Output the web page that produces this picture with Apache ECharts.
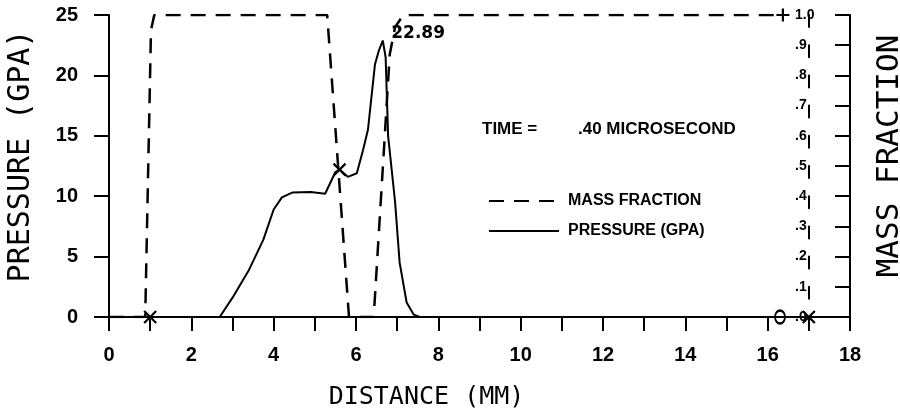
<!DOCTYPE html>
<html><head><meta charset="utf-8">
<script src="https://cdn.jsdelivr.net/npm/echarts@6/dist/echarts.min.js"></script>
<style>html,body{margin:0;padding:0;background:#fff}#c{width:900px;height:414px}</style>
</head><body><div id="c"></div>
<script>
// ---- data ----
const pressureX = [0, 1, 2.69, 3.0, 3.4, 3.75, 4.0, 4.2, 4.45, 4.9, 5.25, 5.5, 5.6, 5.8, 6.02, 6.17, 6.29, 6.46, 6.55, 6.65, 6.72, 6.78, 6.95, 7.06, 7.23, 7.4, 7.55, 17, 18];
const pressureY = [0, 0, 0, 1.6, 3.9, 6.4, 8.9, 9.9, 10.3, 10.35, 10.2, 12.0, 12.2, 11.6, 11.9, 13.8, 15.5, 20.9, 22.0, 22.89, 21.5, 15.0, 9.5, 4.5, 1.2, 0.2, 0, 0, 0];
const massX = [0, 0.88, 1.02, 1.1, 5.3, 5.83, 6.43, 6.82, 6.95, 7.15, 16.37];
const massY = [0, 0, 0.95, 1.0, 1.0, 0, 0, 0.87, 0.96, 1.0, 1.0];
const crossX = [1, 5.6, 17];
const crossY = [0, 12.2, 0];
const plusX = [16.37];
const plusY = [1.0];
const circleX = [16.3];
const circleY = [0];
const massTickLabels = ['.0', '.1', '.2', '.3', '.4', '.5', '.6', '.7', '.8', '.9', '1.0'];
const seriesNames = ['MASS FRACTION', 'PRESSURE (GPA)'];
const timeLabel = 'TIME =';
const timeValue = '.40 MICROSECOND';

// ---- build ----
const zip = (xs, ys) => xs.map((x, i) => [x, ys[i]]);
let peakIdx = 0;
pressureY.forEach((v, i) => { if (v > pressureY[peakIdx]) peakIdx = i; });

const BLACK = '#000';
const tickFont = { fontFamily: 'Liberation Sans', fontWeight: 'bold', fontSize: 20, color: BLACK };
const titleFont = { fontFamily: 'DejaVu Sans Mono', fontSize: 30, color: BLACK };

const chart = echarts.init(document.getElementById('c'), null, { renderer: 'canvas' });
chart.setOption({
  animation: false,
  backgroundColor: '#fff',
  grid: { left: 109, right: 50, top: 15, bottom: 97, containLabel: false, outerBoundsMode: 'none' },
  xAxis: {
    type: 'value', min: 0, max: 18, interval: 2,
    axisLine: { show: true, lineStyle: { color: BLACK, width: 2 } },
    axisTick: { show: true, length: 14, lineStyle: { color: BLACK, width: 2 } },
    minorTick: { show: true, splitNumber: 2, length: 14, lineStyle: { color: BLACK, width: 2 } },
    splitLine: { show: false },
    axisLabel: Object.assign({ margin: 28 }, tickFont),
    name: 'DISTANCE (MM)', nameLocation: 'middle', nameGap: 68, nameMoveOverlap: false,
    nameTextStyle: Object.assign({}, titleFont, { fontSize: 25, padding: [0, 106, 0, 0] })
  },
  yAxis: [
    {
      type: 'value', position: 'left', min: 0, max: 25, interval: 5,
      axisLine: { show: true, lineStyle: { color: BLACK, width: 2 } },
      axisTick: { show: true, length: 15, lineStyle: { color: BLACK, width: 2 } },
      splitLine: { show: false },
      axisLabel: Object.assign({ margin: 31 }, tickFont),
      name: 'PRESSURE (GPA)', nameLocation: 'middle', nameRotate: 90, nameGap: 73, nameMoveOverlap: false,
      nameTextStyle: Object.assign({}, titleFont, { padding: [0, 0, 0, 20] })
    },
    {
      type: 'value', position: 'right', min: 0, max: 1, interval: 0.1,
      axisLine: { show: true, lineStyle: { color: BLACK, width: 2 } },
      axisTick: { show: true, inside: true, length: 15, lineStyle: { color: BLACK, width: 2 } },
      splitLine: { show: false },
      axisLabel: { show: false },
      name: 'MASS FRACTION', nameLocation: 'middle', nameRotate: 90, nameGap: 24, nameMoveOverlap: false,
      nameTextStyle: Object.assign({}, titleFont, { fontSize: 31, padding: [0, 0, 0, 20] })
    },
    {
      type: 'value', position: 'right', offset: -41, min: 0, max: 1, interval: 0.1,
      axisLine: { show: true, lineStyle: { color: BLACK, width: 2, type: [12, 18.2], dashOffset: 12 } },
      axisTick: { show: false },
      splitLine: { show: false },
      axisLabel: {
        show: true, margin: -14, align: 'left',
        formatter: v => massTickLabels[Math.round(v * 10)],
        fontFamily: 'Liberation Sans', fontWeight: 'bold', fontSize: 14, color: BLACK
      }
    }
  ],
  legend: {
    orient: 'vertical', left: 483, top: 188, itemWidth: 70, itemHeight: 14, itemGap: 14,
    selectedMode: false, data: seriesNames,
    itemStyle: { opacity: 0 },
    lineStyle: { dashOffset: 0 },
    textStyle: { fontFamily: 'Liberation Sans', fontWeight: 'bold', fontSize: 16, color: BLACK, padding: [0, 0, 0, 4] }
  },
  graphic: [
    { type: 'text', left: 482, top: 121, style: { text: timeLabel, fontFamily: 'Liberation Sans', fontWeight: 'bold', fontSize: 17, fill: BLACK } },
    { type: 'text', left: 578, top: 121, style: { text: timeValue, fontFamily: 'Liberation Sans', fontWeight: 'bold', fontSize: 17, fill: BLACK } }
  ],
  series: [
    {
      name: seriesNames[0], type: 'line', yAxisIndex: 1, data: zip(massX, massY),
      symbol: 'none', color: BLACK,
      lineStyle: { color: BLACK, width: 2.5, type: [15, 10] }
    },
    {
      name: seriesNames[1], type: 'line', yAxisIndex: 0, data: zip(pressureX, pressureY),
      symbol: 'none', color: BLACK,
      lineStyle: { color: BLACK, width: 2 }
    },
    {
      name: 'peak', type: 'scatter', yAxisIndex: 0,
      data: [[pressureX[peakIdx], pressureY[peakIdx]]],
      symbol: 'circle', symbolSize: 1, z: 6,
      itemStyle: { color: 'rgba(0,0,0,0)', opacity: 1 },
      label: { show: true, position: 'right', distance: 8, offset: [0, -7],
        formatter: p => p.value[1].toFixed(2),
        fontFamily: 'DejaVu Sans', fontWeight: 'bold', fontSize: 17, color: BLACK, opacity: 1 }
    },
    {
      name: 'pressure marks', type: 'scatter', yAxisIndex: 0, data: zip(crossX, crossY),
      symbol: 'path://M0,0L10,10M10,0L0,10', symbolSize: 12, z: 5,
      itemStyle: { color: 'none', borderColor: BLACK, borderWidth: 2.2, opacity: 1 }
    },
    {
      name: 'mass marks', type: 'scatter', yAxisIndex: 1, data: zip(plusX, plusY),
      symbol: 'path://M5,0L5,10M0,5L10,5', symbolSize: 13, z: 5,
      itemStyle: { color: 'none', borderColor: BLACK, borderWidth: 2.2, opacity: 1 }
    },
    {
      name: 'circle marks', type: 'scatter', yAxisIndex: 0, data: zip(circleX, circleY),
      symbol: 'circle', symbolSize: [10, 13], z: 5,
      itemStyle: { color: 'rgba(0,0,0,0)', borderColor: BLACK, borderWidth: 2, opacity: 1 }
    }
  ]
});
</script>
</body></html>
